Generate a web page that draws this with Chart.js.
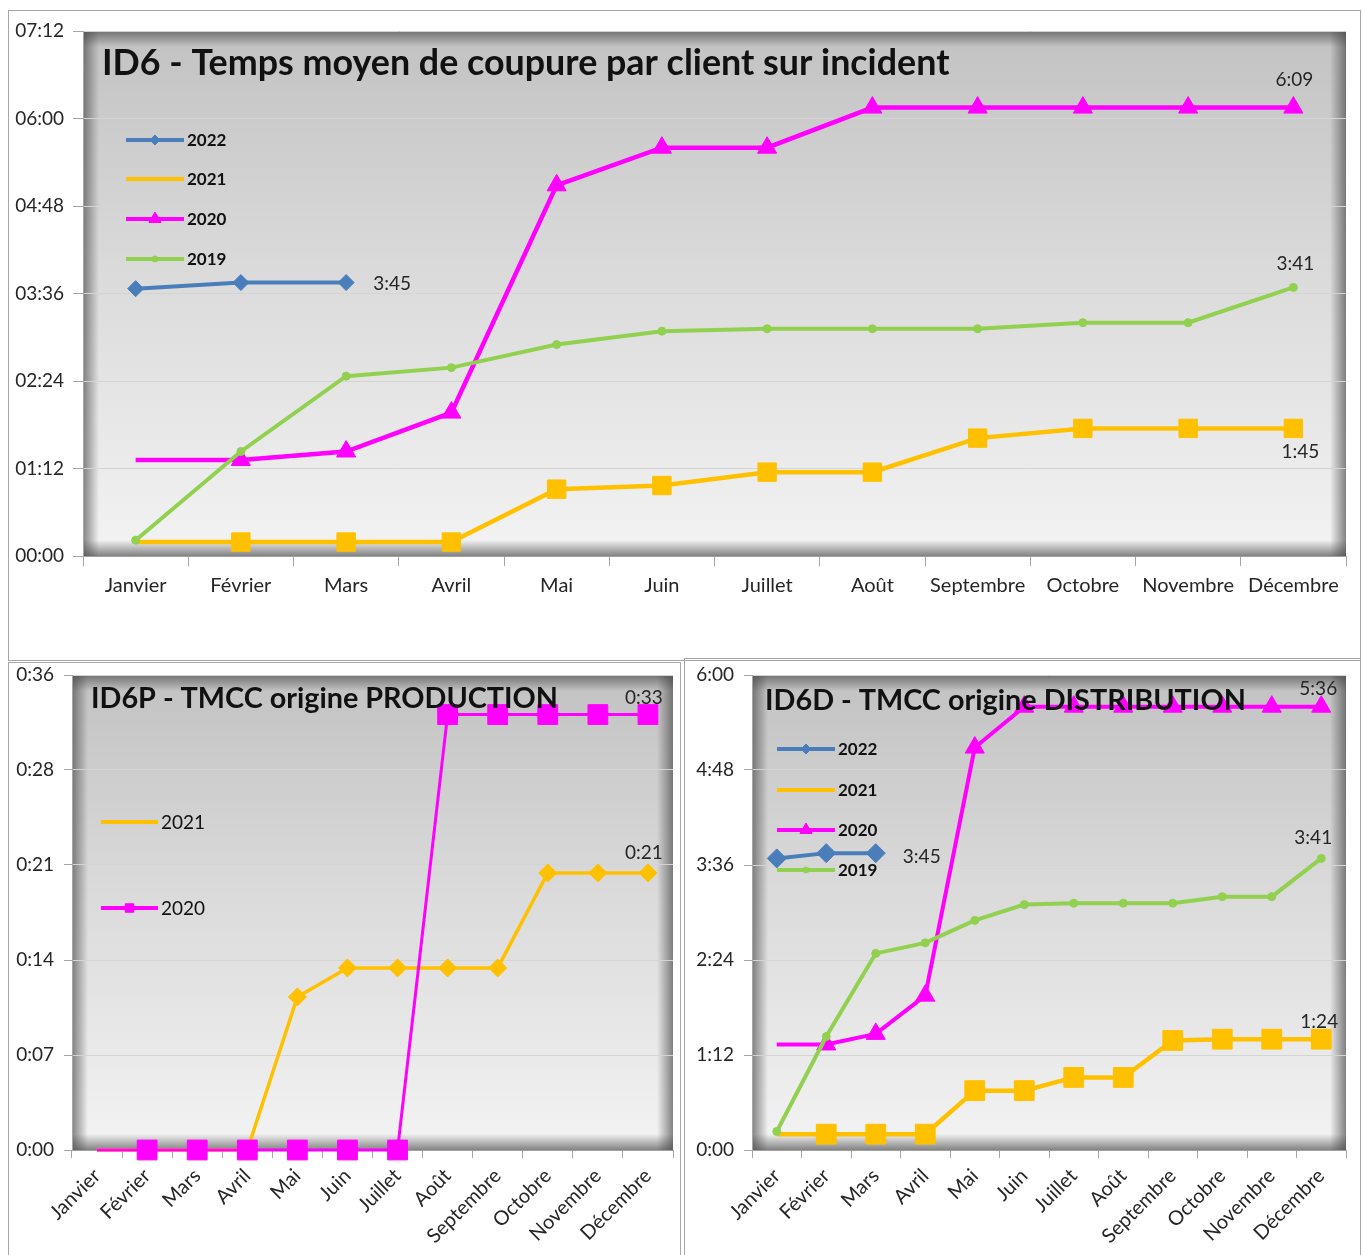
<!DOCTYPE html>
<html><head><meta charset="utf-8">
<script src="https://cdn.jsdelivr.net/npm/chart.js@4/dist/chart.umd.min.js"></script>
<style>
html,body{margin:0;padding:0;background:#fff;}
body{width:1363px;height:1255px;position:relative;overflow:hidden;}
.frame{position:absolute;border:1px solid #a6a6a6;box-sizing:border-box;}
.holder{position:absolute;}
</style></head><body>
<div class="frame" style="left:8px;top:10px;width:1353px;height:651px"></div>
<div class="frame" style="left:8px;top:662px;width:673px;height:600px"></div>
<div class="frame" style="left:684px;top:658px;width:677px;height:604px"></div>
<div class="holder" style="left:8px;top:10px;width:1352px;height:650px"><canvas id="c1"></canvas></div>
<div class="holder" style="left:8px;top:662px;width:672px;height:593px"><canvas id="c2"></canvas></div>
<div class="holder" style="left:684px;top:658px;width:676px;height:597px"><canvas id="c3"></canvas></div>
<script>
// ---------- DATA (values in minutes) ----------
const months = ['Janvier','Février','Mars','Avril','Mai','Juin','Juillet','Août','Septembre','Octobre','Novembre','Décembre'];

// ID6 - Temps moyen de coupure par client sur incident
const id6_2022 = [220, 225, 225, null, null, null, null, null, null, null, null, null];
const id6_2021 = [11.5, 11.5, 11.5, 11.5, 55, 58, 69, 69, 97, 105, 105, 105];
const id6_2020 = [79, 79, 86, 118, 305, 336, 336, 369, 369, 369, 369, 369];
const id6_2019 = [13, 86, 148, 155, 174, 185, 187, 187, 187, 192, 192, 221];

// ID6P - TMCC origine PRODUCTION
const id6p_2021 = [0, 0, 0, 0, 11.6, 13.8, 13.8, 13.8, 13.8, 21, 21, 21];
const id6p_2020 = [0, 0, 0, 0, 0, 0, 0, 33, 33, 33, 33, 33];

// ID6D - TMCC origine DISTRIBUTION
const id6d_2022 = [221, 225, 225, null, null, null, null, null, null, null, null, null];
const id6d_2021 = [12, 12, 12, 12, 45, 45, 55, 55, 83, 84, 84, 84];
const id6d_2020 = [80, 80, 88, 117, 305, 336, 336, 336, 336, 336, 336, 336];
const id6d_2019 = [14, 86, 149, 157, 174, 186, 187, 187, 187, 192, 192, 221];

const seriesNames = ['2022', '2021', '2020', '2019'];
const titles = ['ID6 - Temps moyen de coupure par client sur incident', 'ID6P - TMCC origine PRODUCTION', 'ID6D - TMCC origine DISTRIBUTION'];

// ---------- helpers ----------
const FONT = "Lato, 'Open Sans', sans-serif";
const C_BLUE = '#4a7ebb', C_ORANGE = '#ffc000', C_MAG = '#ff00ff', C_GREEN = '#92d050';
const pad2 = n => (n < 10 ? '0' : '') + n;
function hm(v, padHour) {
  const t = Math.floor(Math.round(v * 1000) / 1000 + 1e-6);
  const h = Math.floor(t / 60), m = t % 60;
  return (padHour ? pad2(h) : h) + ':' + pad2(m);
}
function radii(n, r, skipFirst) { return Array.from({length: n}, (_, i) => (skipFirst && i === 0) ? 0 : r); }

const bgPlugin = {
  id: 'bg',
  beforeDraw(chart) {
    const {ctx, chartArea: a} = chart;
    ctx.save();
    const g = ctx.createLinearGradient(0, a.top, 0, a.bottom);
    g.addColorStop(0, '#c2c2c2'); g.addColorStop(0.45, '#dadada'); g.addColorStop(1, '#f3f3f3');
    ctx.fillStyle = g; ctx.fillRect(a.left, a.top, a.width, a.height);
    const s = 16;
    const edge = (x0, y0, x1, y1, rx, ry, rw, rh) => {
      const gg = ctx.createLinearGradient(x0, y0, x1, y1);
      gg.addColorStop(0, 'rgba(70,70,70,0.65)'); gg.addColorStop(1, 'rgba(70,70,70,0)');
      ctx.fillStyle = gg; ctx.fillRect(rx, ry, rw, rh);
    };
    edge(a.left, 0, a.left + s, 0, a.left, a.top, s, a.height);
    edge(a.right, 0, a.right - s, 0, a.right - s, a.top, s, a.height);
    edge(0, a.top, 0, a.top + s, a.left, a.top, a.width, s);
    edge(0, a.bottom, 0, a.bottom - s, a.left, a.bottom - s, a.width, s);
    ctx.restore();
  }
};

const decoPlugin = {
  id: 'deco',
  afterDatasetsDraw(chart, args, o) {
    const {ctx, chartArea: a} = chart;
    ctx.save();
    // title, sized to the requested width
    ctx.fillStyle = '#111';
    ctx.font = 'bold 30px ' + FONT;
    const w = ctx.measureText(o.title).width;
    const size = 30 * o.titleWidth / w;
    ctx.font = 'bold ' + size.toFixed(2) + 'px ' + FONT;
    ctx.textAlign = 'left'; ctx.textBaseline = 'middle';
    ctx.fillText(o.title, a.left + o.titleDx, a.top + o.titleDy);
    // data labels
    ctx.font = o.labelSize + 'px ' + FONT;
    ctx.fillStyle = '#262626';
    ctx.textAlign = 'center';
    (o.labels || []).forEach(l => {
      const ds = chart.data.datasets[l.ds];
      const pt = chart.getDatasetMeta(l.ds).data[l.idx];
      ctx.fillText(hm(ds.data[l.idx], false), pt.x + l.dx, pt.y + l.dy);
    });
    // legend
    (o.legend || []).forEach(it => {
      const ds = chart.data.datasets[it.ds];
      const x0 = a.left + o.legDx, x1 = x0 + o.legLen, y = a.top + it.dy;
      ctx.strokeStyle = ds.borderColor; ctx.lineWidth = o.legLine; ctx.lineCap = 'butt';
      ctx.beginPath(); ctx.moveTo(x0, y); ctx.lineTo(x1, y); ctx.stroke();
      if (it.r > 0) {
        ctx.fillStyle = ds.borderColor; ctx.strokeStyle = ds.borderColor; ctx.lineWidth = 1;
        Chart.helpers.drawPoint(ctx, {pointStyle: ds.pointStyle, radius: it.r, rotation: 0, borderWidth: 1}, (x0 + x1) / 2, y);
      }
      ctx.fillStyle = '#111';
      ctx.font = (o.legBold ? 'bold ' : '') + o.legSize + 'px ' + FONT;
      ctx.textAlign = 'left'; ctx.textBaseline = 'middle';
      ctx.fillText(seriesNames[it.name], x1 + 3, y + 1);
    });
    ctx.restore();
  }
};

function lineDs(label, data, color, style, r, width, skipFirst, order) {
  return {
    label, data, borderColor: color, backgroundColor: color,
    pointBackgroundColor: color, pointBorderColor: color, pointBorderWidth: 1,
    pointStyle: style, pointRadius: radii(data.length, r, skipFirst), pointHoverRadius: r,
    borderWidth: width, tension: 0, spanGaps: false, order, clip: false
  };
}

function makeChart(id, datasets, cfg) {
  return new Chart(document.getElementById(id), {
    type: 'line',
    data: {labels: months, datasets},
    plugins: [bgPlugin, decoPlugin],
    options: {
      responsive: true, maintainAspectRatio: false, animation: false,
      layout: {padding: cfg.padding, autoPadding: false},
      plugins: {legend: {display: false}, tooltip: {enabled: false}, deco: cfg.deco},
      scales: {
        x: {
          offset: true,
          grid: {offset: true, drawOnChartArea: false, drawTicks: true, tickLength: cfg.xTick, color: '#a6a6a6'},
          border: {display: true, color: '#a0a0a0', width: 1},
          ticks: {autoSkip: false, maxRotation: cfg.rot, minRotation: cfg.rot, padding: cfg.xPad,
                  color: '#262626', font: {family: FONT, size: cfg.xSize}},
          afterFit(s) { s.height = cfg.xHeight; s.paddingLeft = 0; s.paddingRight = 0; }
        },
        y: {
          min: 0, max: cfg.max,
          grid: {color: '#d4d4d4', lineWidth: 1, drawTicks: true, tickLength: cfg.yTick, tickColor: '#a6a6a6'},
          border: {display: true, color: '#a6a6a6', width: 1},
          ticks: {stepSize: cfg.step, padding: cfg.yPad, color: '#262626', font: {family: FONT, size: cfg.ySize},
                  callback: v => hm(v, cfg.padHour)},
          afterFit(s) { s.width = cfg.yWidth; s.paddingTop = 0; s.paddingBottom = 0; }
        }
      }
    }
  });
}

// ---------- Chart 1 ----------
makeChart('c1', [
  lineDs('2022', id6_2022, C_BLUE, 'rectRot', 8, 4, false, 4),
  lineDs('2021', id6_2021, C_ORANGE, 'rect', 13, 4.5, true, 3),
  lineDs('2020', id6_2020, C_MAG, 'triangle', 11, 4.5, true, 2),
  lineDs('2019', id6_2019, C_GREEN, 'circle', 4, 4, false, 1)
], {
  padding: {left: 0, right: 14, top: 21, bottom: 0},
  yWidth: 75, xHeight: 104, max: 432, step: 72, padHour: true,
  xTick: 10, xPad: 8, xSize: 20, rot: 0, yTick: 10, yPad: 9, ySize: 19,
  deco: {
    title: titles[0], titleWidth: 848, titleDx: 19, titleDy: 32, labelSize: 19,
    labels: [{ds: 0, idx: 2, dx: 46, dy: 1}, {ds: 2, idx: 11, dx: 1, dy: -28}, {ds: 3, idx: 11, dx: 2, dy: -24}, {ds: 1, idx: 11, dx: 7, dy: 23}],
    legDx: 43, legLen: 58, legLine: 4, legBold: true, legSize: 17,
    legend: [{ds: 0, name: 0, dy: 109, r: 5}, {ds: 1, name: 1, dy: 148, r: 0}, {ds: 2, name: 2, dy: 188, r: 7}, {ds: 3, name: 3, dy: 228, r: 3}]
  }
});

// ---------- Chart 2 ----------
makeChart('c2', [
  lineDs('2021', id6p_2021, C_ORANGE, 'rectRot', 9, 3.5, true, 2),
  lineDs('2020', id6p_2020, C_MAG, 'rect', 14, 3, true, 1)
], {
  padding: {left: 0, right: 7, top: 13, bottom: 0},
  yWidth: 64, xHeight: 105, max: 36, step: 7.2, padHour: false,
  xTick: 8, xPad: 6, xSize: 20, rot: 45, yTick: 8, yPad: 10, ySize: 19,
  deco: {
    title: titles[1], titleWidth: 467, titleDx: 19, titleDy: 24, labelSize: 19,
    labels: [{ds: 1, idx: 11, dx: -4, dy: -17}, {ds: 0, idx: 11, dx: -4, dy: -20}],
    legDx: 29, legLen: 57, legLine: 4, legBold: false, legSize: 19,
    legend: [{ds: 0, name: 1, dy: 147, r: 0}, {ds: 1, name: 2, dy: 233, r: 6}]
  }
});

// ---------- Chart 3 ----------
makeChart('c3', [
  lineDs('2022', id6d_2022, C_BLUE, 'rectRot', 9.5, 4, false, 4),
  lineDs('2021', id6d_2021, C_ORANGE, 'rect', 14, 4.5, true, 3),
  lineDs('2020', id6d_2020, C_MAG, 'triangle', 11, 4, true, 2),
  lineDs('2019', id6d_2019, C_GREEN, 'circle', 4, 4, false, 1)
], {
  padding: {left: 0, right: 14, top: 17, bottom: 0},
  yWidth: 68, xHeight: 105, max: 360, step: 72, padHour: false,
  xTick: 8, xPad: 6, xSize: 20, rot: 45, yTick: 8, yPad: 10, ySize: 19,
  deco: {
    title: titles[2], titleWidth: 481, titleDx: 13, titleDy: 26, labelSize: 19,
    labels: [{ds: 2, idx: 11, dx: -3, dy: -18}, {ds: 3, idx: 11, dx: -8, dy: -21}, {ds: 1, idx: 11, dx: -2, dy: -17}, {ds: 0, idx: 2, dx: 46, dy: 4}],
    legDx: 25, legLen: 58, legLine: 4, legBold: true, legSize: 17,
    legend: [{ds: 0, name: 0, dy: 74, r: 5}, {ds: 1, name: 1, dy: 115, r: 0}, {ds: 2, name: 2, dy: 155, r: 7}, {ds: 3, name: 3, dy: 195, r: 3}]
  }
});
</script>
</body></html>
